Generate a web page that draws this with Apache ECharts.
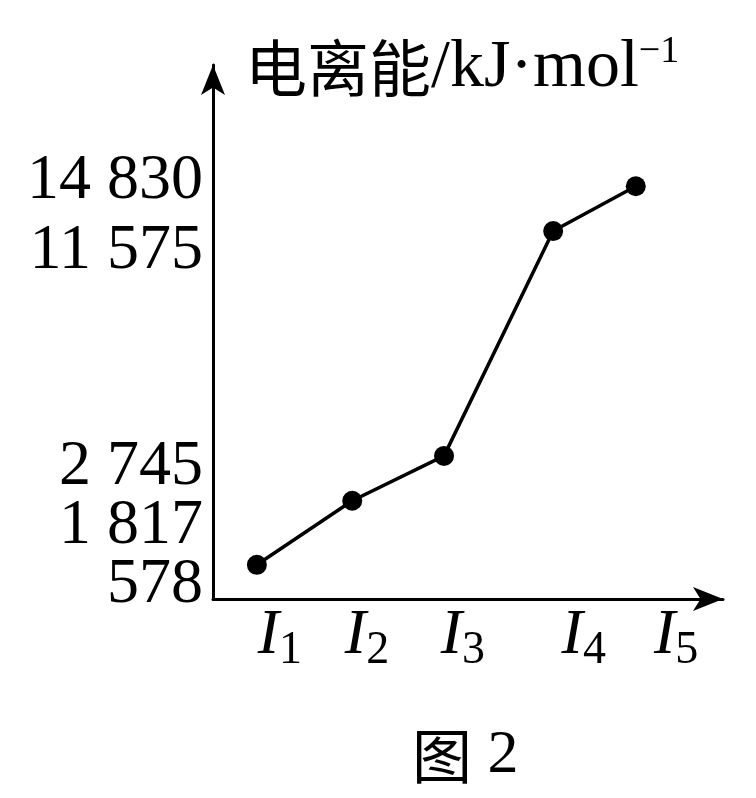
<!DOCTYPE html>
<html>
<head>
<meta charset="utf-8">
<script src="https://cdn.jsdelivr.net/npm/echarts@6/dist/echarts.min.js"></script>
<style>
html,body{margin:0;padding:0;background:#fff;}
#chart{width:756px;height:798px;}
</style>
</head>
<body>
<div id="chart"></div>
<script>
// ---- data (figure is a schematic, not drawn to scale) ----
const ionizationSteps = ['1', '2', '3', '4', '5'];               // subscripts of I
const energyValues = [578, 1817, 2745, 11575, 14830];             // kJ·mol⁻¹
const energyTickLabels = ['578', '1 817', '2 745', '11 575', '14 830'];
// positions of the points on the schematic axes (axis units 0–100)
const stepX = [8.6, 27.3, 45.3, 66.7, 82.9];
const energyY = [6.4, 18.4, 26.8, 68.9, 77.3];
// positions of the tick labels on the schematic axes
const stepLabelX = [13.1, 30.2, 49.0, 72.7, 90.8];
const energyLabelY = [2.6, 13.7, 24.7, 65.2, 78.3];

const serif = '"Liberation Serif", "Times New Roman", serif';
const cjk = '"Noto Sans CJK SC", sans-serif';

const xLabelMap = {};
stepLabelX.forEach((v, i) => { xLabelMap[v] = ionizationSteps[i]; });
const yLabelMap = {};
energyLabelY.forEach((v, i) => { yLabelMap[v] = energyTickLabels[i]; });
// labels are split over two overlapping axes so that close labels are not auto-hidden
const yLabelsA = energyLabelY.filter((v, i) => i % 2 === 0);
const yLabelsB = energyLabelY.filter((v, i) => i % 2 === 1);

const seriesData = stepX.map((x, i) => ({ value: [x, energyY[i]], energy: energyValues[i] }));

function yAxisDef(values, showLine) {
  return {
    type: 'value', min: 0, max: 100, position: 'left', offset: 0,
    axisLine: { show: showLine, onZero: false, symbol: ['none', 'arrow'], symbolSize: [18, 30],
      lineStyle: { color: '#000', width: 3 } },
    axisTick: { show: false },
    splitLine: { show: false },
    axisLabel: {
      customValues: values,
      margin: 10,
      hideOverlap: false,
      showMinLabel: true, showMaxLabel: true,
      fontFamily: serif, fontSize: 64, color: '#000',
      formatter: (v) => yLabelMap[v] || ''
    }
  };
}

const chart = echarts.init(document.getElementById('chart'), null, { renderer: 'canvas' });
chart.setOption({
  animation: false,
  backgroundColor: '#fff',
  title: [
    {
      text: '{cn|电离能}{en|/kJ·mol}{sup|−1}',
      left: 245, top: 33, padding: 0,
      textStyle: {
        fontWeight: 'normal',
        rich: {
          cn: { fontFamily: cjk, fontWeight: 'normal', fontSize: 62, lineHeight: 70, verticalAlign: 'middle', color: '#000' },
          en: { fontFamily: serif, fontWeight: 'normal', fontSize: 68, lineHeight: 70, verticalAlign: 'middle', color: '#000' },
          sup: { fontFamily: serif, fontWeight: 'normal', fontSize: 38, lineHeight: 38, verticalAlign: 'top', color: '#000' }
        }
      }
    },
    {
      text: '{cn|图}{n| 2}',
      left: 412, top: 721, padding: 0,
      textStyle: {
        fontWeight: 'normal',
        rich: {
          cn: { fontFamily: cjk, fontWeight: 'normal', fontSize: 60, lineHeight: 70, verticalAlign: 'middle', color: '#000' },
          n: { fontFamily: serif, fontWeight: 'normal', fontSize: 62, lineHeight: 70, verticalAlign: 'middle', color: '#000' }
        }
      }
    }
  ],
  grid: { left: 213, right: 33, top: 65, bottom: 199, containLabel: false },
  xAxis: {
    type: 'value', min: 0, max: 100,
    axisLine: { show: true, onZero: false, symbol: ['none', 'arrow'], symbolSize: [18, 30],
      lineStyle: { color: '#000', width: 3 } },
    axisTick: { show: false },
    splitLine: { show: false },
    axisLabel: {
      customValues: stepLabelX,
      margin: 5,
      hideOverlap: false,
      showMinLabel: true, showMaxLabel: true,
      formatter: (v) => '{i|I}{s|' + (xLabelMap[v] || '') + '}',
      rich: {
        i: { fontFamily: serif, fontStyle: 'italic', fontSize: 64, lineHeight: 64, verticalAlign: 'top', color: '#000' },
        s: { fontFamily: serif, fontSize: 46, lineHeight: 46, verticalAlign: 'top', padding: [24, 0, 0, 0], color: '#000' }
      }
    }
  },
  yAxis: [yAxisDef(yLabelsA, true), yAxisDef(yLabelsB, false)],
  series: [{
    type: 'line',
    yAxisIndex: 0,
    data: seriesData,
    symbol: 'circle', symbolSize: 20,
    itemStyle: { color: '#000' },
    lineStyle: { color: '#000', width: 3.5 }
  }]
});
</script>
</body>
</html>
